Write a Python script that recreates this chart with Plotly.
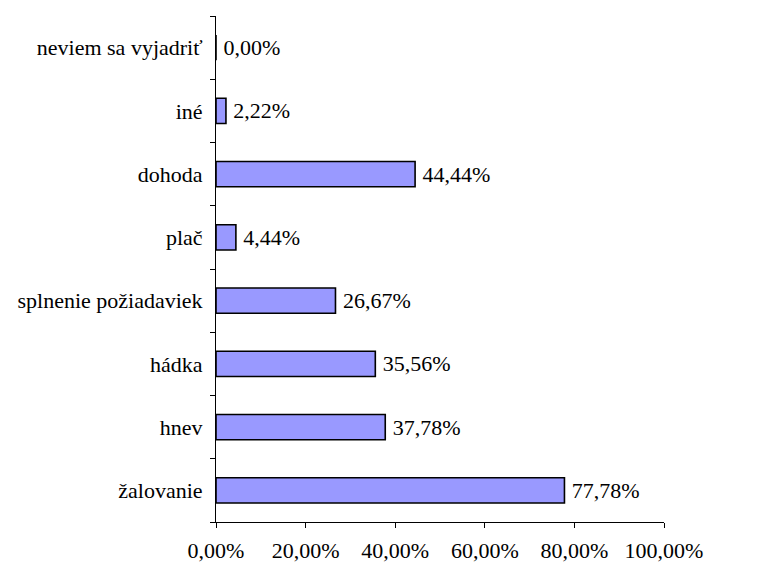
import plotly.graph_objects as go

categories = ["žalovanie", "hnev", "hádka", "splnenie požiadaviek", "plač", "dohoda", "iné", "neviem sa vyjadriť"]
values = [0.7778, 0.3778, 0.3556, 0.2667, 0.0444, 0.4444, 0.0222, 0.0]
x_ticks = [0, 0.2, 0.4, 0.6, 0.8, 1.0]

FONT = dict(family="Liberation Serif", size=22, color="black")

fig = go.Figure(go.Bar(
    x=values, y=categories, orientation="h",
    marker=dict(color="#9999FF", line=dict(color="black", width=1.6)),
    texttemplate="\u2009%{x:.2%}", textposition="outside", cliponaxis=False,
    textfont=FONT, width=0.4,
))

# page body has an 8px margin, so the figure is drawn 8px smaller and offset
fig.update_layout(
    width=752, height=555,
    margin=dict(l=208, r=96, t=8, b=41, autoexpand=False),
    paper_bgcolor="white", plot_bgcolor="white",
    separators=", ",
    font=FONT,
    showlegend=False,
    bargap=0.6,
)
fig.update_xaxes(
    range=[0, 1], tickvals=x_ticks, tickformat=".2%",
    showgrid=False, zeroline=False, automargin=False,
    showline=True, linecolor="black", linewidth=1,
    ticks="outside", ticklen=5, tickcolor="black",
    tickfont=FONT, ticklabelstandoff=4,
)
fig.update_yaxes(
    categoryorder="array", categoryarray=categories,
    showgrid=False, zeroline=False, automargin=False,
    showline=True, linecolor="black", linewidth=1,
    ticks="outside", ticklen=5, tickcolor="black", tickson="boundaries",
    tickfont=FONT, ticklabelstandoff=8,
)

fig.write_html("out.html")
